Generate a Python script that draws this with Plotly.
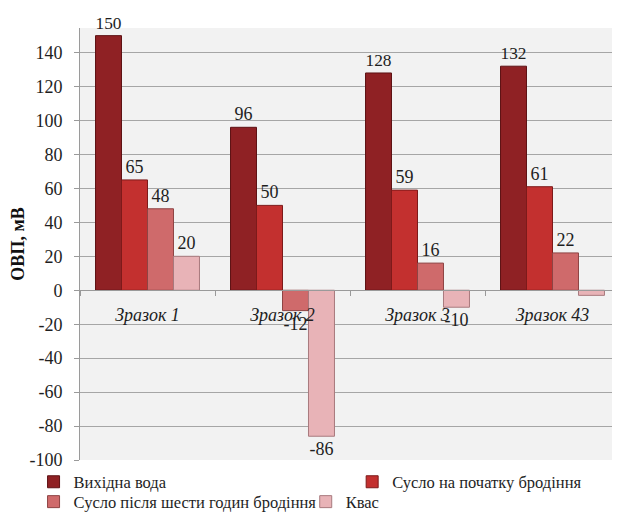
import plotly.graph_objects as go

categories = ["Зразок 1", "Зразок 2", "Зразок 3", "Зразок 43"]
series_names = ["Вихідна вода", "Сусло на початку бродіння",
                "Сусло після шести годин бродіння", "Квас"]
water = [150, 96, 128, 132]
wort_start = [65, 50, 59, 61]
wort_6h = [48, -12, 16, 22]
kvass = [20, -86, -10, -3]
kvass_labels = ["20", "-86", "-10", ""]
y_ticks = [140, 120, 100, 80, 60, 40, 20, 0, -20, -40, -60, -80, -100]
y_tick_text = [str(v) for v in y_ticks]

colors = ["#8f2124", "#c3302f", "#cf6a6b", "#e8b3b7"]
edges = ["#5e1214", "#7d1a1a", "#8e4444", "#a87a7e"]
series = [water, wort_start, wort_6h, kvass]
labels = [[str(v) for v in water], [str(v) for v in wort_start],
          [str(v) for v in wort_6h], kvass_labels]
legend_ids = ["legend", "legend2", "legend3", "legend4"]

Y_MIN, Y_MAX = -100, 154.5
FONT = "Liberation Serif, Times New Roman, serif"
TXT = "#1e1e1e"

fig = go.Figure()
for name, vals, txt, c, e, lg in zip(series_names, series, labels, colors, edges, legend_ids):
    fig.add_trace(go.Bar(
        x=categories, y=vals, name=name, text=txt,
        textposition="outside", cliponaxis=False,
        textfont=dict(family=FONT, size=18, color=TXT),
        marker=dict(color=c, line=dict(color=e, width=1)),
        legend=lg, showlegend=True,
    ))

def leg(x, y):
    return dict(orientation="h", x=x, y=y, xanchor="left", yanchor="middle",
                font=dict(family=FONT, size=16.5, color=TXT),
                itemwidth=30, bgcolor="rgba(0,0,0,0)", borderwidth=0)

# page body adds an 8px offset, so the figure is 8px smaller than the window
fig.update_layout(
    width=612, height=505,
    margin=dict(l=72, r=0, t=20, b=53, autoexpand=False),
    showlegend=True,
    paper_bgcolor="white",
    plot_bgcolor="#f2f2f2",
    barmode="group", bargap=0.23, bargroupgap=0,
    font=dict(family=FONT, size=17, color=TXT),
    legend=leg(-0.086, -0.051),
    legend2=leg(0.504, -0.051),
    legend3=leg(-0.086, -0.097),
    legend4=leg(0.418, -0.097),
)

fig.update_xaxes(
    type="category", categoryorder="array", categoryarray=categories,
    anchor="free", position=(0 - Y_MIN) / (Y_MAX - Y_MIN),
    showline=True, linecolor="#9a9a9a", linewidth=1,
    ticks="outside", tickson="boundaries", ticklen=5, tickcolor="#9a9a9a",
    ticklabelstandoff=8,
    tickfont=dict(family=FONT, size=18, color=TXT, style="italic"),
    showgrid=False,
)
fig.update_yaxes(
    range=[Y_MIN, Y_MAX], tickvals=y_ticks, ticktext=y_tick_text,
    showgrid=True, gridcolor="#a6a6a6", gridwidth=1,
    zeroline=False,
    showline=True, linecolor="#9a9a9a", linewidth=1,
    ticks="outside", ticklen=5, tickcolor="#9a9a9a",
    ticklabelstandoff=8,
    tickfont=dict(family=FONT, size=18, color=TXT),
    title=dict(text="<b>ОВП, мВ</b>", font=dict(family=FONT, size=18, color="#111111"),
               standoff=0),
)

fig.write_html("out.html")
